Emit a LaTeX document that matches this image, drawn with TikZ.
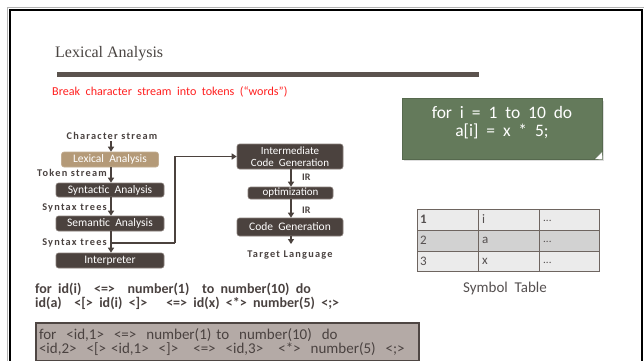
\documentclass[tikz,border=0pt]{standalone}
\usepackage{fontspec}
\setmainfont{Liberation Serif}
\setsansfont{Carlito}
\newfontfamily\lblfont[LetterSpace=12]{Carlito}
\newfontfamily\widesans[WordSpace=2]{Carlito}
\usetikzlibrary{arrows.meta,calc}
\definecolor{titlecol}{HTML}{4A4542}
\definecolor{rulecol}{HTML}{5B534E}
\definecolor{redtxt}{HTML}{FF2020}
\definecolor{greenbox}{HTML}{647A5B}
\definecolor{greenedge}{HTML}{56694E}
\definecolor{darkbox}{HTML}{4B423E}
\definecolor{darkedge}{HTML}{8A807B}
\definecolor{tanbox}{HTML}{B49A78}
\definecolor{tabedge}{HTML}{6E6560}
\definecolor{tablight}{HTML}{EBEBEB}
\definecolor{tabmid}{HTML}{D2D2D2}
\definecolor{tabtxt}{HTML}{555050}
\definecolor{bodytxt}{HTML}{4A4240}
\definecolor{graybox}{HTML}{B4AAA6}
\definecolor{grayedge}{HTML}{4E4643}
\tikzset{
  x=1pt, y=-1pt,
  stagebox/.style={draw=darkedge, line width=0.6pt, fill=darkbox, rounded corners=2.5pt,
    text=white, font=\widesans\fontsize{11.5}{12}\selectfont, inner sep=0pt, align=center},
  lexbox/.style={stagebox, fill=tanbox, draw=tanbox!80!white},
  flowlbl/.style={font=\lblfont\bfseries\fontsize{10.3}{11}\selectfont, text=bodytxt, inner sep=0pt},
  arr/.style={draw=darkbox, line width=1.8pt, -{Triangle[width=6pt,length=5pt]}},
  ln/.style={draw=darkbox, line width=1.8pt},
  cell/.style={draw=tabedge, line width=1pt},
  celltxt/.style={font=\sffamily\fontsize{13}{14}\selectfont, text=tabtxt, inner sep=0pt, anchor=west},
}
\begin{document}
\begin{tikzpicture}
\useasboundingbox (0,0) rectangle (644,360);
\fill[white] (0,0) rectangle (644,360);
% frame
\draw[gray!60, line width=1pt] (7,362) -- (7,7) -- (645,7);
\draw[black, line width=2pt] (10,362) -- (10,10) -- (642,10) -- (642,362);
% title
\node[anchor=west, inner sep=0pt, text=titlecol, font=\fontsize{16}{18}\selectfont] (title) at (55,54) {Lexical Analysis};
\fill[rulecol] (57,72) rectangle (479,76.5);
\node[anchor=west, inner sep=0pt, text=redtxt, font=\widesans\fontsize{12.1}{14}\selectfont] (sub) at (52,92) {Break character stream into tokens (“words”)};
% green note
\fill[black!25, opacity=0.5] (404,101) rectangle (604,161);
\node[draw=greenedge, fill=greenbox, minimum width=200pt, minimum height=61pt, inner sep=0pt] (note) at (502,128.5) {};
\node[inner sep=0pt, text=white, font=\widesans\fontsize{17.5}{18}\selectfont, align=center] (notetxt) at (502,123)
  {for i = 1 to 10 do\\ a[i] = x * 5;};
\fill[greenbox!80!black] (602,152) -- (594,159) -- (602,159) -- cycle;
\fill[white] (602,152) -- (595,159) -- (602.5,159.5) -- cycle;
\draw[greenedge!60!white, line width=0.5pt] (602,152) -- (595,159);
% symbol table
\fill[tablight] (417,209) rectangle (599,230);
\fill[tabmid] (417,230) rectangle (599,251);
\fill[tablight] (417,251) rectangle (599,271);
\draw[cell] (417,209) rectangle (599,271);
\draw[cell] (417,230) -- (599,230) (417,251) -- (599,251) (478,209) -- (478,271) (539,209) -- (539,271);
\node[celltxt, font=\sffamily\bfseries\fontsize{13}{14}\selectfont] (r1a) at (420,219.5) {1};
\node[celltxt] (r1b) at (482,219.5) {i};
\node[celltxt, font=\sffamily\fontsize{11}{12}\selectfont] (r1c) at (543,221) {...};
\node[celltxt] (r2a) at (420,240.5) {2};
\node[celltxt] (r2b) at (482,240.5) {a};
\node[celltxt, font=\sffamily\fontsize{11}{12}\selectfont] (r2c) at (543,242) {...};
\node[celltxt] (r3a) at (420,261) {3};
\node[celltxt] (r3b) at (482,261) {x};
\node[celltxt, font=\sffamily\fontsize{11}{12}\selectfont] (r3c) at (543,262.5) {...};
\node[inner sep=0pt, text=tabtxt, font=\widesans\fontsize{15}{16}\selectfont] (symt) at (505,288) {Symbol Table};
% left flow
\node[flowlbl] (cs) at (112,136) {Character stream};
\node[lexbox, minimum width=97pt, minimum height=15pt] (lex) at (110,159.5) {Lexical Analysis};
\node[stagebox, minimum width=108pt, minimum height=14pt] (syn) at (110,190) {Syntactic Analysis};
\node[stagebox, minimum width=108pt, minimum height=15pt] (sem) at (110,223.5) {Semantic Analysis};
\node[stagebox, minimum width=108pt, minimum height=15pt] (interp) at (110,260.5) {Interpreter};
\node[flowlbl, anchor=east] (ts) at (107,173) {Token stream};
\node[flowlbl, anchor=east] (st1) at (107,208) {Syntax trees};
\node[flowlbl, anchor=east] (st2) at (107,243) {Syntax trees};
\coordinate (cstop) at (111,141);
\coordinate (junc) at (111,243);
\coordinate (bend) at (175,243);
\draw[arr] (cstop) -- (lex.north -| cstop);
\draw[arr] (lex.south -| cstop) -- (syn.north -| cstop);
\draw[arr] (syn.south -| cstop) -- (sem.north -| cstop);
\draw[arr] (sem.south -| cstop) -- (interp.north -| cstop);
% right flow
\node[stagebox, minimum width=106pt, minimum height=25pt, font=\widesans\fontsize{11}{12}\selectfont] (inter) at (290,156.5) {Intermediate\\ Code Generation};
\node[stagebox, minimum width=85pt, minimum height=12pt, font=\widesans\fontsize{11}{12}\selectfont] (opt) at (290.5,193) {optimization};
\node[stagebox, minimum width=106pt, minimum height=18pt] (cg) at (290,227) {Code Generation};
\draw[ln] (junc) -- (bend);
\draw[arr] (bend) |- (inter.west);
\coordinate (tlend) at (291,244);
\draw[arr] (inter.south -| tlend) -- (opt.north -| tlend);
\draw[arr] (opt.south -| tlend) -- (cg.north -| tlend);
\draw[arr] (cg.south -| tlend) -- (tlend);
\node[flowlbl, anchor=west, font=\sffamily\bfseries\fontsize{10}{11}\selectfont] (ir1) at (302,177) {IR};
\node[flowlbl, anchor=west, font=\sffamily\bfseries\fontsize{10}{11}\selectfont] (ir2) at (302,210) {IR};
\node[flowlbl] (tl) at (290,255) {Target Language};
% token lines
\node[anchor=west, inner sep=0pt, align=left, text=bodytxt, font=\widesans\bfseries\fontsize{14}{14}\selectfont] (tok) at (35,296)
  {for id(i) \ <=> \ number(1) \ to number(10) do\\ id(a) \ <[> id(i) <]> \ \ <=> id(x) <*> number(5) <;>};
\node[draw=grayedge, line width=2pt, fill=graybox, anchor=north west, minimum width=383pt, minimum height=38pt,
  inner sep=2pt, align=left, text=bodytxt, font=\widesans\fontsize{15}{14}\selectfont, text width=377pt] (symbox) at (35,322)
  {for \ <id,1> \ <=> \ number(1) to \ number(10) \ do\\ <id,2> \ <[> <id,1> \ <]> \ \ <=> \ <id,3> \ \ <*> \ number(5) \ <;>};
\end{tikzpicture}
\end{document}
